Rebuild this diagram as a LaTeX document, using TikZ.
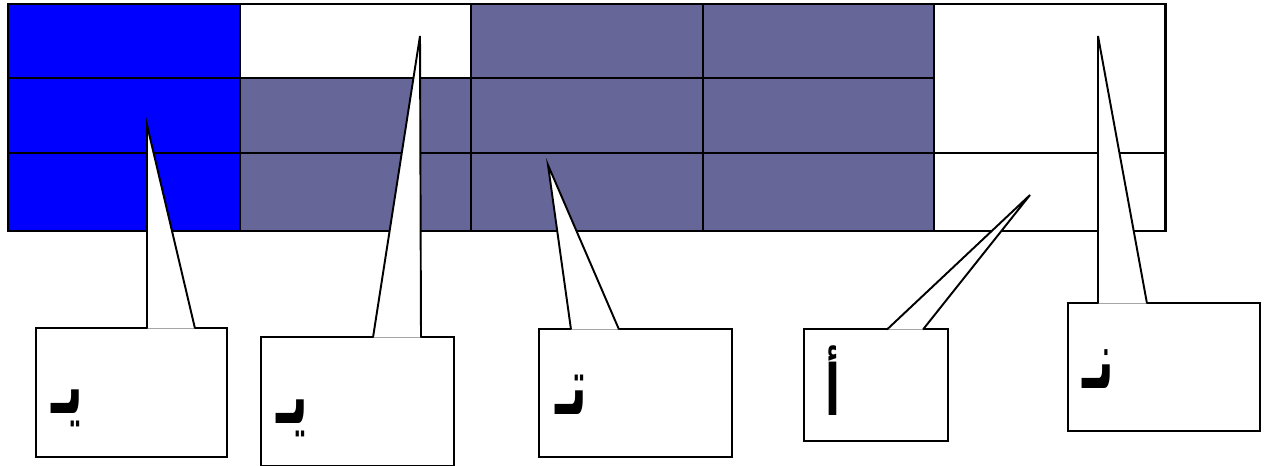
\documentclass[tikz,border=0pt]{standalone}
\usepackage{fontspec}
\usepackage{graphicx}
\usepackage{tikz}
\usetikzlibrary{calc}
\TeXXeTstate=1
\newfontfamily\arabicfont[Script=Arabic]{DejaVu Sans}
\definecolor{slate}{RGB}{102,102,153}
\newcommand{\arlet}[2][1.15]{\scalebox{0.62}[#1]{\beginR #2\endR}}

\tikzset{
    gridline/.style={black, line width=1.1pt},
    callbox/.style={draw=black, fill=white, line width=1.1pt, rectangle, inner sep=0pt, anchor=north west},
    tail/.style={draw=black, fill=white, line width=1.1pt},
    letter/.style={anchor=base west, inner sep=0pt, font=\arabicfont\bfseries\fontsize{40}{44}\selectfont},
}

\begin{document}
\begin{tikzpicture}[x=0.02cm, y=-0.02cm]
        \useasboundingbox (0,0) rectangle (1267,466);

            % the table
            \fill[blue] (8,4) rectangle (240,231);
            \fill[slate] (240,78) rectangle (934,231);
            \fill[slate] (471,4) rectangle (934,78);
            \draw[gridline] (8,78) -- (934,78);
            \draw[gridline] (8,153) -- (1165,153);
            \foreach \x in {240,471,703,934}
                \draw[gridline] (\x,4) -- (\x,231);
            \draw[black, line width=1.7pt] (8,4) rectangle (1165,231);

            % tips of the tails
            \coordinate (tip1) at (147,125);
            \coordinate (tip2) at (420,36);
            \coordinate (tip3) at (548,165);
            \coordinate (tip4) at (1030,195);
            \coordinate (tip5) at (1098,36);

            % boxes
            \node[callbox, minimum width=3.82cm, minimum height=2.58cm] (box1) at (35,327) {};
            \node[callbox, minimum width=3.86cm, minimum height=2.58cm] (box2) at (260,336) {};
            \node[callbox, minimum width=3.86cm, minimum height=2.56cm] (box3) at (538,328) {};
            \node[callbox, minimum width=2.88cm, minimum height=2.24cm] (box4) at (803,328) {};
            \node[callbox, minimum width=3.84cm, minimum height=2.56cm] (box5) at (1067,302) {};

            % tails
            \filldraw[tail] ($(box1.north west)+(112,1.5)$) -- (tip1) -- ($(box1.north west)+(160,1.5)$);
            \filldraw[tail] ($(box2.north west)+(113,1.5)$) -- (tip2) -- ($(box2.north west)+(161,1.5)$);
            \filldraw[tail] ($(box3.north west)+(33,1.5)$) -- (tip3) -- ($(box3.north west)+(81,1.5)$);
            \filldraw[tail] ($(box4.north west)+(84,1.5)$) -- (tip4) -- ($(box4.north west)+(120,1.5)$);
            \filldraw[tail] ($(box5.north west)+(31,1.5)$) -- (tip5) -- ($(box5.north west)+(80,1.5)$);

            % letters
            \node[letter] (ya1) at ($(box1.north west)+(16,86)$) {\arlet{يـ}};
            \node[letter] (ya2) at ($(box2.north west)+(16,87)$) {\arlet{يـ}};
            \node[letter] (ta) at ($(box3.north west)+(17,86)$) {\arlet{تـ}};
            \node[letter] (alif) at ($(box4.north west)+(22,87)$) {\arlet[1.0]{أ}};
            \node[letter] (nun) at ($(box5.north west)+(15,86)$) {\arlet{نـ}};

        \end{tikzpicture}
\end{document}
